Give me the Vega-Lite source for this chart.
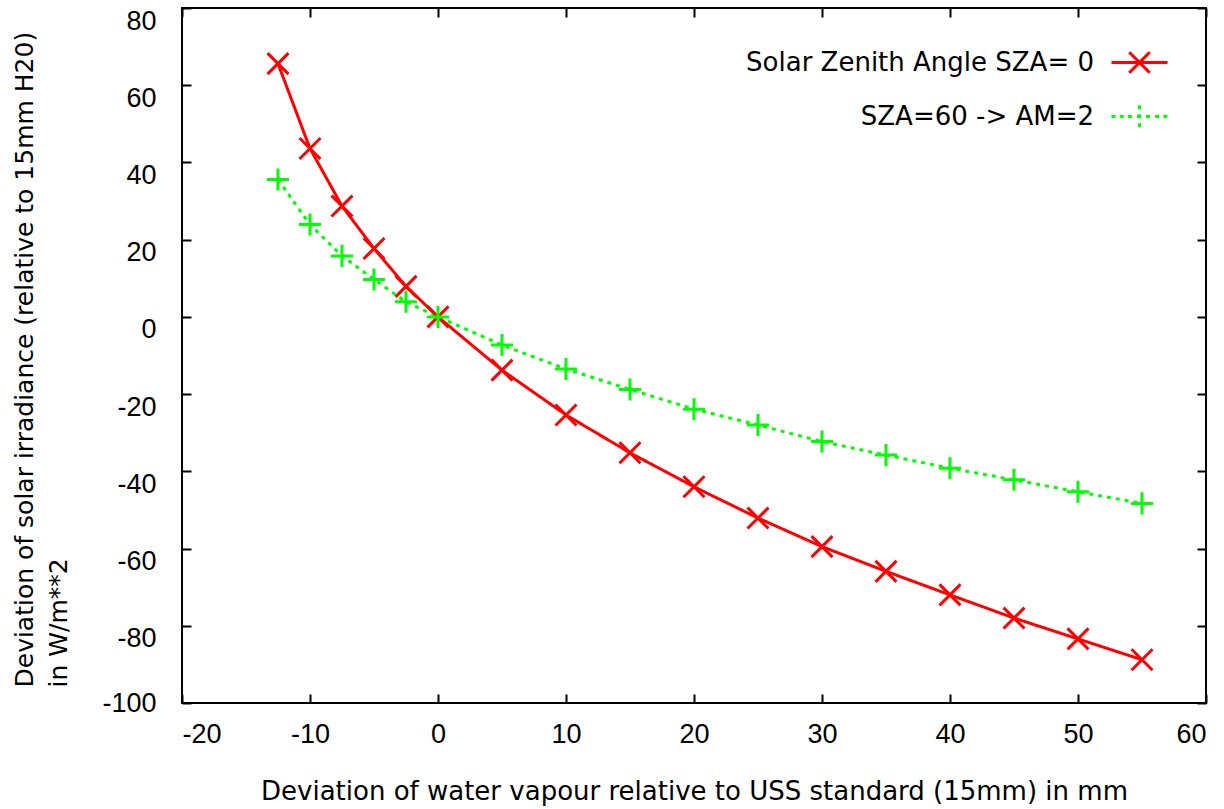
{
  "$schema": "https://vega.github.io/schema/vega-lite/v6.json",
  "width": 1024,
  "height": 695,
  "autosize": {"type": "none"},
  "padding": {"left": 182, "top": 8, "right": 18, "bottom": 106},
  "background": "white",
  "config": {
    "view": {"stroke": "black", "strokeWidth": 2},
    "axis": {
      "grid": false,
      "domain": false,
      "tickColor": "black",
      "tickWidth": 2,
      "tickSize": -9,
      "labelFont": "Liberation Sans",
      "labelFontSize": 27,
      "labelColor": "black",
      "titleFont": "DejaVu Sans",
      "titleFontSize": 26,
      "titleColor": "black",
      "titleFontWeight": "normal"
    },
    "legend": {
      "orient": "none",
      "legendX": 935,
      "legendY": 32,
      "padding": 0,
      "labelFont": "DejaVu Sans",
      "labelFontSize": 26,
      "labelColor": "black",
      "labelAlign": "right",
      "labelOffset": -68,
      "labelLimit": 600,
      "rowPadding": 15,
      "symbolSize": 1700,
      "symbolStrokeWidth": 3,
      "symbolOpacity": 1
    }
  },
  "data": {
    "values": [
      {"x": -12.5, "y": 65.6, "series": "Solar Zenith Angle SZA= 0"},
      {"x": -10, "y": 43.6, "series": "Solar Zenith Angle SZA= 0"},
      {"x": -7.5, "y": 28.7, "series": "Solar Zenith Angle SZA= 0"},
      {"x": -5, "y": 17.7, "series": "Solar Zenith Angle SZA= 0"},
      {"x": -2.5, "y": 7.9, "series": "Solar Zenith Angle SZA= 0"},
      {"x": 0, "y": 0, "series": "Solar Zenith Angle SZA= 0"},
      {"x": 5, "y": -13.8, "series": "Solar Zenith Angle SZA= 0"},
      {"x": 10, "y": -25.4, "series": "Solar Zenith Angle SZA= 0"},
      {"x": 15, "y": -35.2, "series": "Solar Zenith Angle SZA= 0"},
      {"x": 20, "y": -44.0, "series": "Solar Zenith Angle SZA= 0"},
      {"x": 25, "y": -52.1, "series": "Solar Zenith Angle SZA= 0"},
      {"x": 30, "y": -59.5, "series": "Solar Zenith Angle SZA= 0"},
      {"x": 35, "y": -65.9, "series": "Solar Zenith Angle SZA= 0"},
      {"x": 40, "y": -72.0, "series": "Solar Zenith Angle SZA= 0"},
      {"x": 45, "y": -78.0, "series": "Solar Zenith Angle SZA= 0"},
      {"x": 50, "y": -83.4, "series": "Solar Zenith Angle SZA= 0"},
      {"x": 55, "y": -88.8, "series": "Solar Zenith Angle SZA= 0"},
      {"x": -12.5, "y": 35.6, "series": "SZA=60 -> AM=2"},
      {"x": -10, "y": 23.9, "series": "SZA=60 -> AM=2"},
      {"x": -7.5, "y": 15.8, "series": "SZA=60 -> AM=2"},
      {"x": -5, "y": 9.7, "series": "SZA=60 -> AM=2"},
      {"x": -2.5, "y": 3.9, "series": "SZA=60 -> AM=2"},
      {"x": 0, "y": 0, "series": "SZA=60 -> AM=2"},
      {"x": 5, "y": -7.3, "series": "SZA=60 -> AM=2"},
      {"x": 10, "y": -13.5, "series": "SZA=60 -> AM=2"},
      {"x": 15, "y": -18.8, "series": "SZA=60 -> AM=2"},
      {"x": 20, "y": -23.9, "series": "SZA=60 -> AM=2"},
      {"x": 25, "y": -28.0, "series": "SZA=60 -> AM=2"},
      {"x": 30, "y": -32.3, "series": "SZA=60 -> AM=2"},
      {"x": 35, "y": -35.8, "series": "SZA=60 -> AM=2"},
      {"x": 40, "y": -39.2, "series": "SZA=60 -> AM=2"},
      {"x": 45, "y": -42.2, "series": "SZA=60 -> AM=2"},
      {"x": 50, "y": -45.3, "series": "SZA=60 -> AM=2"},
      {"x": 55, "y": -48.3, "series": "SZA=60 -> AM=2"}
    ]
  },
  "layer": [
    {
      "transform": [{"filter": "false"}],
      "mark": {"type": "point", "filled": false, "strokeWidth": 3, "opacity": 1},
      "encoding": {
        "color": {
          "field": "series", "type": "nominal",
          "scale": {"domain": ["Solar Zenith Angle SZA= 0", "SZA=60 -> AM=2"], "range": ["#ff0000", "#00ff00"]},
          "legend": {"title": null}
        },
        "shape": {
          "field": "series", "type": "nominal",
          "scale": {
            "domain": ["Solar Zenith Angle SZA= 0", "SZA=60 -> AM=2"],
            "range": [
              "M-1.36,0L1.36,0M-0.5,-0.5L0.5,0.5M-0.5,0.5L0.5,-0.5",
              "M-1.36,0L-1.16,0M-0.96,0L-0.76,0M-0.56,0L0.56,0M0.76,0L0.96,0M1.16,0L1.36,0M0,-0.54L0,0.54"
            ]
          },
          "legend": {"title": null}
        }
      }
    },
    {
      "mark": {"type": "line", "strokeWidth": 3},
      "encoding": {
        "x": {
          "field": "x", "type": "quantitative",
          "scale": {"domain": [-20, 60], "nice": false, "zero": false},
          "axis": {
            "orient": "bottom",
            "values": [-20, -10, 0, 10, 20, 30, 40, 50, 60],
            "labelExpr": "toString(datum.value)",
            "title": "Deviation of water vapour relative to USS standard (15mm) in mm",
            "labelPadding": 27,
            "titleY": 96,
            "titleBaseline": "alphabetic"
          }
        },
        "y": {
          "field": "y", "type": "quantitative",
          "scale": {"domain": [-100, 80], "nice": false, "zero": false},
          "axis": {
            "orient": "left",
            "values": [-100, -80, -60, -40, -20, 0, 20, 40, 60, 80],
            "labelExpr": "toString(datum.value)",
            "labelBaseline": {
              "condition": {"test": "datum.value === -100", "value": "middle"},
              "value": "top"
            },
            "title": ["Deviation of solar irradiance (relative to 15mm H20)", "in W/m**2"],
            "labelPadding": 35,
            "titleFontSize": 25,
            "titleAngle": -90,
            "titleAlign": "left",
            "titleBaseline": "middle",
            "titleX": -158,
            "titleY": 679,
            "titleLineHeight": 34
          }
        },
        "color": {
          "field": "series", "type": "nominal",
          "legend": null
        },
        "strokeDash": {
          "field": "series", "type": "nominal",
          "scale": {"domain": ["Solar Zenith Angle SZA= 0", "SZA=60 -> AM=2"], "range": [[1, 0], [4, 5]]},
          "legend": null
        }
      }
    },
    {
      "mark": {"type": "point", "filled": false, "strokeWidth": 3, "size": 440, "opacity": 1},
      "encoding": {
        "x": {
          "field": "x", "type": "quantitative",
          "axis": {"orient": "top", "values": [-20, -10, 0, 10, 20, 30, 40, 50, 60], "labels": false, "title": null}
        },
        "y": {
          "field": "y", "type": "quantitative",
          "axis": {"orient": "right", "values": [-100, -80, -60, -40, -20, 0, 20, 40, 60, 80], "labels": false, "title": null}
        },
        "color": {
          "field": "series", "type": "nominal",
          "legend": null
        },
        "shape": {
          "condition": {"test": "datum.series === 'SZA=60 -> AM=2'", "value": "M0,-1.05L0,1.05M-1.05,0L1.05,0"},
          "value": "M-1,-1L1,1M-1,1L1,-1"
        }
      }
    }
  ],
  "resolve": {"axis": {"x": "independent", "y": "independent"}}
}
